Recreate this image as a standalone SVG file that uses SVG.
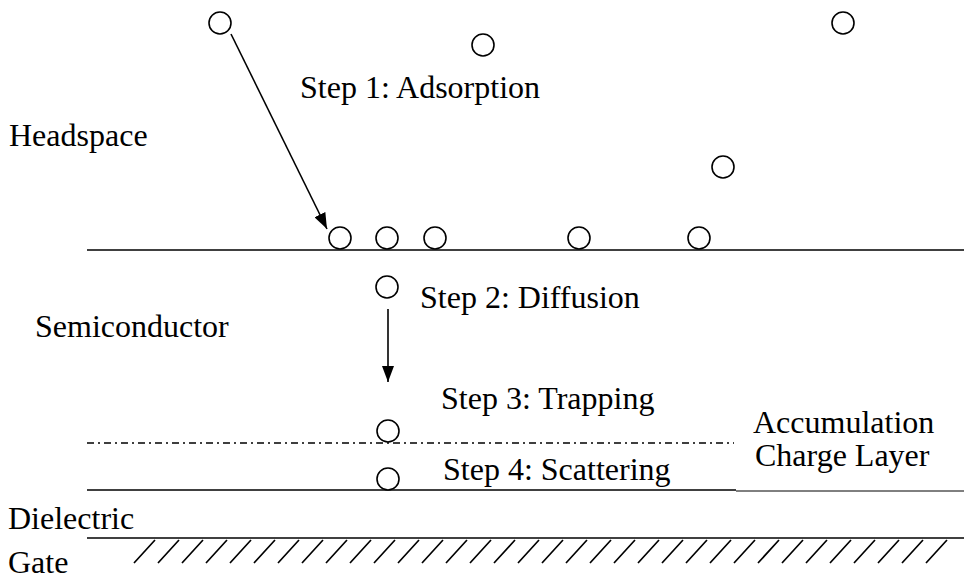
<svg xmlns="http://www.w3.org/2000/svg" width="964" height="580" viewBox="0 0 964 580">
<style>
  text { font-family: "Liberation Serif", "Times New Roman", serif; font-size: 32px; fill: #000; }
  .mol { fill: #fff; stroke: #000; stroke-width: 1.6; }
  .ln { stroke: #000; stroke-width: 1.6; fill: none; }
  .thin { stroke: #000; stroke-width: 1; fill: none; }
  .hatch { stroke: #000; stroke-width: 1.7; fill: none; }
  .dd { stroke: #000; stroke-width: 1.4; fill: none; stroke-dasharray: 7 4 2 4; }
</style>
<defs>
  <marker id="ah" viewBox="0 0 16 12" refX="16" refY="6" markerWidth="16" markerHeight="12" markerUnits="userSpaceOnUse" orient="auto">
    <path d="M0,0 L16,6 L0,12 Z" fill="#000"/>
  </marker>
</defs>
<rect width="964" height="580" fill="#fff"/>
<g id="layers">
  <line class="ln" x1="87" y1="250" x2="964" y2="250"/>
  <line class="dd" x1="87" y1="443" x2="734" y2="443"/>
  <line class="ln" x1="87" y1="490" x2="736" y2="490"/>
  <line class="thin" x1="736" y1="491" x2="964" y2="491"/>
  <line class="ln" x1="87" y1="538" x2="964" y2="538"/>
  <path class="hatch" d="M155,540 l-21,23 M179,540 l-21,23 M203,540 l-21,23 M227,540 l-21,23 M251,540 l-21,23 M275,540 l-21,23 M299,540 l-21,23 M323,540 l-21,23 M347,540 l-21,23 M371,540 l-21,23 M395,540 l-21,23 M419,540 l-21,23 M443,540 l-21,23 M467,540 l-21,23 M491,540 l-21,23 M515,540 l-21,23 M539,540 l-21,23 M563,540 l-21,23 M587,540 l-21,23 M611,540 l-21,23 M635,540 l-21,23 M659,540 l-21,23 M683,540 l-21,23 M707,540 l-21,23 M731,540 l-21,23 M755,540 l-21,23 M779,540 l-21,23 M803,540 l-21,23 M827,540 l-21,23 M851,540 l-21,23 M875,540 l-21,23 M899,540 l-21,23 M923,540 l-21,23 M947,540 l-21,23"/>
</g>
<g id="molecules">
  <circle class="mol" cx="220" cy="23" r="11"/>
  <circle class="mol" cx="483" cy="45" r="11"/>
  <circle class="mol" cx="843" cy="23" r="11"/>
  <circle class="mol" cx="723" cy="167" r="11"/>
  <circle class="mol" cx="340" cy="238" r="11"/>
  <circle class="mol" cx="387" cy="238" r="11"/>
  <circle class="mol" cx="435" cy="238" r="11"/>
  <circle class="mol" cx="579" cy="238" r="11"/>
  <circle class="mol" cx="699" cy="238" r="11"/>
  <circle class="mol" cx="387" cy="287" r="11"/>
  <circle class="mol" cx="388" cy="431" r="11"/>
  <circle class="mol" cx="388" cy="479" r="11"/>
</g>
<g id="connectors">
  <line class="ln" x1="231" y1="34" x2="327" y2="229" marker-end="url(#ah)"/>
  <line class="ln" x1="388" y1="309" x2="388" y2="382" marker-end="url(#ah)"/>
</g>
<g id="labels">
  <text x="9" y="146">Headspace</text>
  <text x="300" y="98">Step 1: Adsorption</text>
  <text x="420" y="308">Step 2: Diffusion</text>
  <text x="35" y="337">Semiconductor</text>
  <text x="441" y="409">Step 3: Trapping</text>
  <text x="443" y="480">Step 4: Scattering</text>
  <text x="753" y="433">Accumulation</text>
  <text x="755" y="466">Charge Layer</text>
  <text x="8" y="529">Dielectric</text>
  <text x="8" y="573">Gate</text>
</g>
</svg>
